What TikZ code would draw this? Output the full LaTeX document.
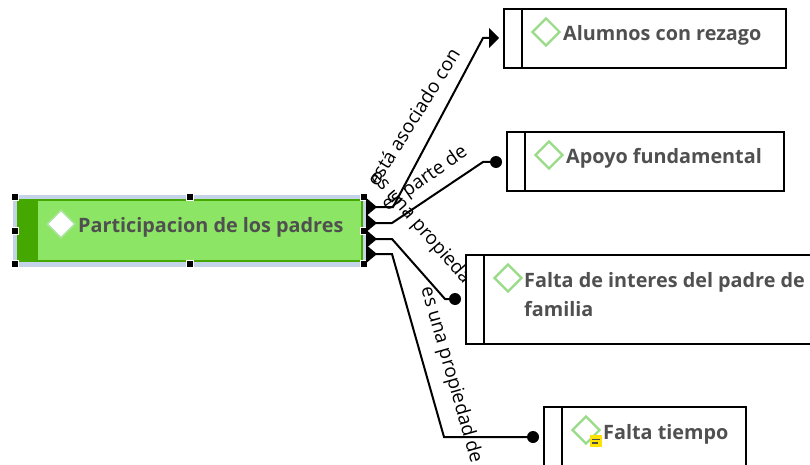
\documentclass[tikz,border=0pt]{standalone}
\usepackage{fontspec}
\setmainfont{Open Sans}
\usetikzlibrary{arrows.meta,shapes.geometric}
\definecolor{haloblue}{HTML}{C5D3E8}
\definecolor{leafgreen}{HTML}{8CE564}
\definecolor{darkgreen}{HTML}{44A800}
\definecolor{iconline}{HTML}{98DC88}
\definecolor{titlegray}{HTML}{505050}
\tikzset{
  box/.style={draw=black,line width=2pt,fill=white,anchor=north west,inner sep=0pt,outer sep=0pt},
  gem/.style={shape=diamond,draw=iconline,line width=2.2pt,fill=white,inner sep=0pt,minimum width=28pt,minimum height=28pt},
  title/.style={anchor=west,inner sep=0pt,text=titlegray,font=\fontsize{19.8}{29}\selectfont\bfseries,align=left},
  rel/.style={font=\fontsize{19}{22}\selectfont,inner sep=0pt},
  handle/.style={draw=white,line width=0.8pt,fill=black,inner sep=0pt,minimum size=7pt},
  link/.style={draw=black,line width=2pt},
  dot/.style={circle,fill=black,inner sep=0pt,minimum size=12pt}
}
\begin{document}
\begin{tikzpicture}[x=1pt,y=-1pt,>={Triangle[length=11pt,width=18pt]}]
  \useasboundingbox (0,0) rectangle (810,465);
  \clip (0,0) rectangle (810,465);
  % relation labels go under the boxes
  \node[rel,rotate=58] (l1) at (413,117) {está asociado con};
  \node[rel,rotate=35] (l2) at (425,179) {es parte de};
  \node[rel,rotate=-49] (l3) at (433,242) {es una propiedad de};
  \node[rel,rotate=-74] (l4) at (451,375) {es una propiedad de};
  % selected topic
  \node[draw=none,fill=haloblue,anchor=north west,minimum width=354pt,minimum height=72pt,inner sep=0pt] (halo) at (13,195) {};
  \node[box,draw=darkgreen,fill=leafgreen,minimum width=344pt,minimum height=61pt] (main) at (18,200) {};
  \node[box,draw=darkgreen,fill=darkgreen,minimum width=19pt,minimum height=61pt] (band) at (18,200) {};
  \node[gem,line width=1.5pt,draw=iconline!80!white] (g0) at (61,224) {};
  \node[title] (t0) at (78,227) {Participacion de los padres};
  \foreach \n/\x/\y in {h1/15/197,h2/190/197,h3/364/197,h4/15/231,h5/364/231,h6/15/264,h7/190/264,h8/364/264}
    \node[handle] (\n) at (\x,\y) {};
  % other topics
  \node[box,minimum width=282pt,minimum height=59pt] (b1) at (504,9) {};
  \node[box,minimum width=18pt,minimum height=59pt] (s1) at (504,9) {};
  \node[gem] (g1) at (546,32) {};
  \node[title] (t1) at (563,35) {Alumnos con rezago};
  \node[box,minimum width=277pt,minimum height=59pt] (b2) at (507,132) {};
  \node[box,minimum width=18pt,minimum height=59pt] (s2) at (507,132) {};
  \node[gem] (g2) at (549,155) {};
  \node[title] (t2) at (566,158) {Apoyo fundamental};
  \node[box,minimum width=350pt,minimum height=89pt] (b3) at (466,255) {};
  \node[box,minimum width=18pt,minimum height=89pt] (s3) at (466,255) {};
  \node[gem] (g3) at (508,278) {};
  \node[title] (t3) at (524,295) {Falta de interes del padre de\\familia};
  \node[box,minimum width=202pt,minimum height=80pt] (b4) at (544,407) {};
  \node[box,minimum width=18pt,minimum height=80pt] (s4) at (544,407) {};
  \node[gem] (g4) at (586,430) {};
  \node[title] (t4) at (603,434) {Falta tiempo};
  \node[fill=yellow!85!orange,minimum width=12pt,minimum height=12pt,inner sep=0pt] (n4) at (596,441) {};
  \draw[line width=1.6pt,black!70] (n4.center) ++(-4,-1.5) -- ++(8,0) ++(-8,3.5) -- ++(6,0);
  % connectors
  \node[dot] (d2) at (496,162) {};
  \node[dot] (d3) at (455,299) {};
  \node[dot] (d4) at (533,437) {};
  \coordinate (a1) at (366,207);
  \coordinate (a2) at (366,223);
  \coordinate (a3) at (366,239);
  \coordinate (a4) at (366,254);
  \coordinate (e1) at (499,38);
  \draw[link,{>}-{Triangle[length=10pt,width=20pt]}] (a1) -- (393,207) -- (483,38) -- (e1);
  \draw[link,{>}-] (a2) -- (392,223) -- (483,162) -- (d2);
  \draw[link,{>}-] (a3) -- (392,239) -- (445,299) -- (d3);
  \draw[link,{>}-] (a4) -- (392,254) -- (444,437) -- (d4);
\end{tikzpicture}
\end{document}
